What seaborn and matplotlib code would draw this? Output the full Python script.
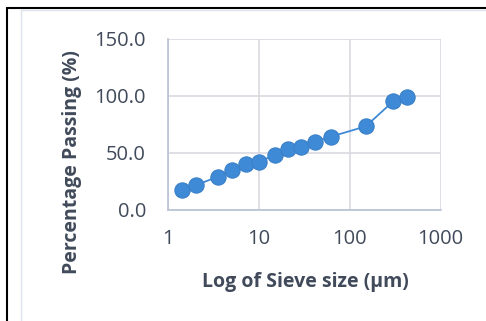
import matplotlib
matplotlib.use("Agg")
import matplotlib.pyplot as plt
import seaborn as sns
import pandas as pd
from matplotlib.lines import Line2D

sieve_size = [1.4, 2.0, 3.5, 5.0, 7.2, 10.0, 15.0, 21.0, 29.0, 41.0, 62.0, 150.0, 300.0, 425.0]
percent_passing = [17.3, 21.4, 29.0, 34.9, 40.4, 42.2, 48.1, 53.6, 55.4, 59.8, 64.2, 73.3, 95.3, 99.3]
y_ticks = [0, 50, 100, 150]
x_ticks = [1, 10, 100, 1000]

df = pd.DataFrame({"size": sieve_size, "passing": percent_passing})

sns.set_style("white")
plt.rcParams['font.family'] = ['Open Sans', 'DejaVu Sans']

fig = plt.figure(figsize=(4.86, 3.21), dpi=100)
ax = fig.add_axes([168.3/486, 1 - 209.7/321, (440.7-168.3)/486, (209.7-39)/321])

blue = "#3f8ad6"
sns.lineplot(data=df, x="size", y="passing", ax=ax, color=blue, linewidth=1.3,
             marker="o", markersize=11, markeredgecolor="#3a80c8", markeredgewidth=0.8)
ax.set_xscale("log")
ax.set_xlim(1, 1000)
ax.set_ylim(0, 150)
ax.set_xticks(x_ticks)
ax.set_xticklabels([str(t) for t in x_ticks])
ax.set_yticks(y_ticks)
ax.set_yticklabels([f"{t:.1f}" for t in y_ticks])
ax.minorticks_off()
ax.grid(True, color="#d9d9e0", linewidth=1.2)
ax.set_axisbelow(True)
for s in ["top", "right"]:
    ax.spines[s].set_visible(False)
for s in ["left", "bottom"]:
    ax.spines[s].set_color("#b8c2d4")
    ax.spines[s].set_linewidth(1.2)
ax.tick_params(axis="y", length=0, labelsize=14.5, colors="#404a5a", pad=16)
ax.tick_params(axis="x", length=0, labelsize=14.5, colors="#404a5a", pad=14)
ax.set_xlabel("Log of Sieve size (µm)", fontsize=14, fontweight="bold", color="#404a5a")
ax.set_ylabel("Percentage Passing (%)", fontsize=14, fontweight="bold", color="#404a5a")
ax.xaxis.set_label_coords(0.502, -0.365)
ax.yaxis.set_label_coords(-0.317, 0.279)

# outer frame lines
fig.add_artist(Line2D([7/486, 7/486], [0, 1 - 8/321], color="black", linewidth=1.5, transform=fig.transFigure))
fig.add_artist(Line2D([7/486, 1], [1 - 8/321, 1 - 8/321], color="black", linewidth=1.5, transform=fig.transFigure))
fig.add_artist(Line2D([21/486, 21/486], [0, 1 - 10/321], color="#dde3ec", linewidth=1.0, transform=fig.transFigure))
fig.add_artist(Line2D([21/486, 1], [1 - 10/321, 1 - 10/321], color="#dde3ec", linewidth=1.0, transform=fig.transFigure))

fig.savefig("out.png", dpi=100)
